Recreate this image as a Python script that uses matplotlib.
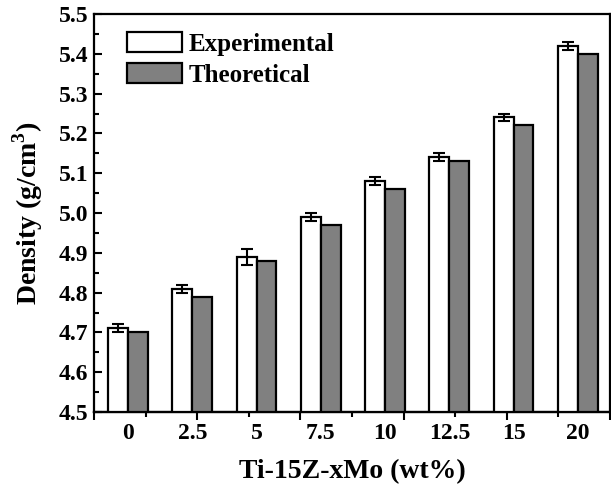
import matplotlib
matplotlib.use("Agg")
import matplotlib.pyplot as plt
import numpy as np
from matplotlib.ticker import MultipleLocator

categories = ["0", "2.5", "5", "7.5", "10", "12.5", "15", "20"]
experimental = [4.71, 4.81, 4.89, 4.99, 5.08, 5.14, 5.24, 5.42]
exp_err = [0.01, 0.01, 0.02, 0.01, 0.01, 0.01, 0.01, 0.01]
theoretical = [4.70, 4.79, 4.88, 4.97, 5.06, 5.13, 5.22, 5.40]

plt.rcParams['font.family'] = ['Liberation Serif', 'DejaVu Serif']
plt.rcParams['font.weight'] = 'bold'
plt.rcParams['mathtext.fontset'] = 'custom'
plt.rcParams['mathtext.bf'] = 'Liberation Serif:bold'
plt.rcParams['mathtext.rm'] = 'Liberation Serif:bold'

fig = plt.figure(figsize=(6.11, 4.92), dpi=100)
ax = fig.add_axes([0.1538, 0.1626, 0.8445, 0.8089])

x = np.arange(len(categories))
w = 0.31
ax.bar(x - w/2, experimental, w, color='white', edgecolor='black', linewidth=1.6,
       yerr=exp_err, error_kw=dict(ecolor='black', elinewidth=1.5, capsize=4, capthick=1.5),
       label='Experimental', zorder=2)
ax.bar(x + w/2, theoretical, w, color='#808080', edgecolor='black', linewidth=1.6,
       label='Theoretical', zorder=2)

ax.set_ylim(4.5, 5.5)
ax.set_xlim(-0.53, 7.5)
ax.yaxis.set_major_locator(MultipleLocator(0.1))
ax.yaxis.set_minor_locator(MultipleLocator(0.05))
ax.yaxis.set_major_formatter(matplotlib.ticker.FormatStrFormatter('%.1f'))
ax.tick_params(axis='y', which='major', direction='in', length=6, width=1.5, labelsize=17, right=False, pad=4)
ax.tick_params(axis='y', which='minor', direction='in', length=3.5, width=1.5, right=False)

ax.set_xticks(x)
ax.set_xticklabels(categories)
ax.tick_params(axis='x', which='major', length=0, labelsize=17, pad=8)

# tick marks along the bottom (independent of category labels)
sec = ax.secondary_xaxis('bottom')
x0, x1 = ax.get_xlim()
span = x1 - x0
sec.set_xticks([x0 + span * k / 5 for k in range(6)])
sec.set_xticks([x0 + span * (2 * k + 1) / 10 for k in range(5)], minor=True)
sec.set_xticklabels([])
sec.tick_params(which='major', direction='out', length=6, width=1.5)
sec.tick_params(which='minor', direction='out', length=3.5, width=1.5)
sec.spines['bottom'].set_linewidth(1.6)

for s in ax.spines.values():
    s.set_linewidth(1.6)

ax.set_ylabel('Density (g/cm$^\\mathbf{3}$)', fontsize=20, fontweight='bold')
ax.yaxis.set_label_coords(-0.094, 0.5)
ax.set_xlabel('Ti-15Z-xMo (wt%)', fontsize=20, fontweight='bold')
ax.xaxis.set_label_coords(0.5, -0.118)

leg = ax.legend(loc='upper left', frameon=False, fontsize=18, handlelength=2.2, handleheight=0.85,
                bbox_to_anchor=(0.064, 0.955), borderaxespad=0.0, borderpad=0.0,
                labelspacing=0.3, handletextpad=0.25)
for t in leg.get_texts():
    t.set_fontweight('bold')

fig.savefig('out.png', dpi=100)
